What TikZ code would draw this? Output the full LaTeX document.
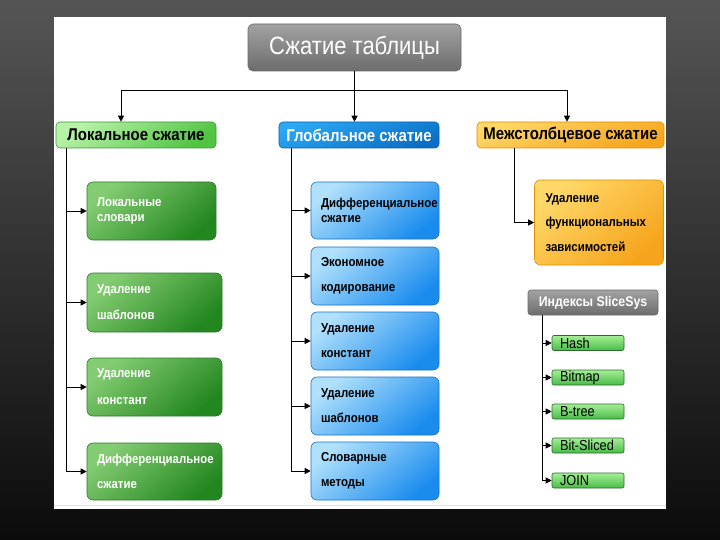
\documentclass[tikz,border=0pt]{standalone}
\usepackage{fontspec}
\setmainfont{Liberation Sans}[FakeStretch=0.88]
\usetikzlibrary{arrows.meta}
\definecolor{bgtop}{HTML}{555555}
\definecolor{bgbot}{HTML}{0B0B0B}
\definecolor{gryA}{HTML}{A2A2A2}
\definecolor{gryB}{HTML}{6C6C6C}
\definecolor{gryD}{HTML}{6A6A6A}
\definecolor{lgA}{HTML}{B8F2A8}
\definecolor{lgB}{HTML}{52C444}
\definecolor{lgD}{HTML}{3A9A3A}
\definecolor{lbA}{HTML}{2AA8F4}
\definecolor{lbB}{HTML}{0A6EC4}
\definecolor{lbD}{HTML}{0A60B0}
\definecolor{loA}{HTML}{FFD868}
\definecolor{loB}{HTML}{F6A41C}
\definecolor{loD}{HTML}{E09000}
\definecolor{dgA}{HTML}{84CC72}
\definecolor{dgB}{HTML}{23871F}
\definecolor{dgD}{HTML}{2C7A2C}
\definecolor{dbA}{HTML}{B0E0FC}
\definecolor{dbB}{HTML}{1A8CEE}
\definecolor{dbD}{HTML}{1A72C4}
\definecolor{sgA}{HTML}{A6EE96}
\definecolor{sgB}{HTML}{48BC48}
\definecolor{sgD}{HTML}{2A6A2A}
\begin{document}
\begin{tikzpicture}[x=1pt,y=-1pt,
  base/.style={draw, line width=0.6pt, inner ysep=0pt},
  titlebox/.style={base, rounded corners=5pt, draw=gryD, top color=gryA, bottom color=gryB,
    text=white, font=\fontsize{25}{28}\selectfont, minimum width=213pt, minimum height=47pt},
  lvlbox/.style={base, rounded corners=4pt, font=\bfseries\fontsize{17}{19}\selectfont,
    minimum height=26pt, inner xsep=0pt},
  locbox/.style={lvlbox, draw=lgD, top color=lgA, bottom color=lgB, shading angle=35, text=black},
  globbox/.style={lvlbox, draw=lbD, top color=lbA, bottom color=lbB, shading angle=20, text=white},
  mezhbox/.style={lvlbox, draw=loD, top color=loA, bottom color=loB, shading angle=20, text=black},
  item/.style={base, rounded corners=6pt, align=left, inner xsep=10pt,
    font=\bfseries\fontsize{13}{15}\selectfont},
  gitem/.style={item, draw=dgD, top color=dgA, bottom color=dgB, shading angle=40, text=white},
  bitem/.style={item, draw=dbD, top color=dbA, bottom color=dbB, shading angle=40, text=black},
  oitem/.style={item, draw=loD, top color=loA, bottom color=loB, shading angle=40, text=black},
  idxbox/.style={base, rounded corners=3pt, draw=gryD, top color=gryA, bottom color=gryB,
    text=white, font=\bfseries\fontsize{14}{16}\selectfont, minimum width=130pt, minimum height=25pt},
  sbox/.style={base, rounded corners=2pt, draw=sgD, top color=sgA, bottom color=sgB,
    align=left, inner xsep=8pt, text width=56pt, minimum height=15pt,
    font=\fontsize{14.5}{15}\selectfont, text=black},
  arr/.style={-{Triangle[length=6pt,width=6pt]}, line width=0.8pt, draw=black}]

% background and panel
\fill[top color=bgtop, bottom color=bgbot] (0,0) rectangle (720,540);
\fill[white] (54,17) rectangle (666,509);
\draw[gray!25, line width=0.6pt] (54,505) -- (666,505);

% title and level 2
\node[titlebox] (title) at (354.5,47.5) {Сжатие таблицы};
\node[locbox, minimum width=160pt] (loc) at (136,135) {Локальное сжатие};
\node[globbox, minimum width=160pt] (glob) at (359,135) {Глобальное сжатие};
\node[mezhbox, minimum width=187pt] (mezh) at (570.5,135) {Межстолбцевое сжатие};

% local column
\node[gitem, text width=109pt, minimum height=58pt] (g1) at (151.5,211) {Локальные\\словари};
\node[gitem, text width=115pt, minimum height=59pt] (g2) at (154.5,302.5) {Удаление\\[11pt]шаблонов};
\node[gitem, text width=115pt, minimum height=58pt] (g3) at (154.5,387) {Удаление\\[12pt]констант};
\node[gitem, text width=115pt, minimum height=57pt] (g4) at (154.5,471.5) {Дифференциальное\\[10pt]сжатие};

% global column
\node[bitem, text width=108pt, minimum height=57pt] (b1) at (375,210.5) {Дифференциальное\\сжатие};
\node[bitem, text width=108pt, minimum height=58pt] (b2) at (375,276) {Экономное\\[10pt]кодирование};
\node[bitem, text width=108pt, minimum height=58pt] (b3) at (375,341) {Удаление\\[10pt]констант};
\node[bitem, text width=108pt, minimum height=58pt] (b4) at (375,406) {Удаление\\[10pt]шаблонов};
\node[bitem, text width=108pt, minimum height=58pt] (b5) at (375,471) {Словарные\\[10pt]методы};

% inter-column
\node[oitem, text width=107pt, inner xsep=11pt, minimum height=85pt] (ob) at (599,222.5) {Удаление\\[9.5pt]функциональных\\[9.5pt]зависимостей};
\node[idxbox] (idx) at (593,302.5) {Индексы SliceSys};
\node[sbox] (s1) at (588,343) {Hash};
\node[sbox] (s2) at (588,377.5) {Bitmap};
\node[sbox] (s3) at (588,411.5) {B-tree};
\node[sbox] (s4) at (588,445.5) {Bit-Sliced};
\node[sbox] (s5) at (588,480.5) {JOIN};

% connectors from title
\coordinate (j) at (354.5,90);
\draw[arr] (title.south) -- (title.south |- glob.north);
\draw[arr] (j) -| ([xshift=-15pt]loc.north);
\draw[arr] (j) -| ([xshift=-3.5pt]mezh.north);

% trunks
\coordinate (lt) at (66,148);
\coordinate (gt) at (291,148);
\coordinate (ot) at (514,148);
\coordinate (it) at (542,315);
\draw[arr] (lt) |- (g4.west);
\foreach \n in {g1,g2,g3} \draw[arr] (lt |- \n.west) -- (\n.west);
\draw[arr] (gt) |- (b5.west);
\foreach \n in {b1,b2,b3,b4} \draw[arr] (gt |- \n.west) -- (\n.west);
\draw[arr] (ot) |- (ob.west);
\draw[arr] (it) |- (s5.west);
\foreach \n in {s1,s2,s3,s4} \draw[arr] (it |- \n.west) -- (\n.west);
\end{tikzpicture}
\end{document}
